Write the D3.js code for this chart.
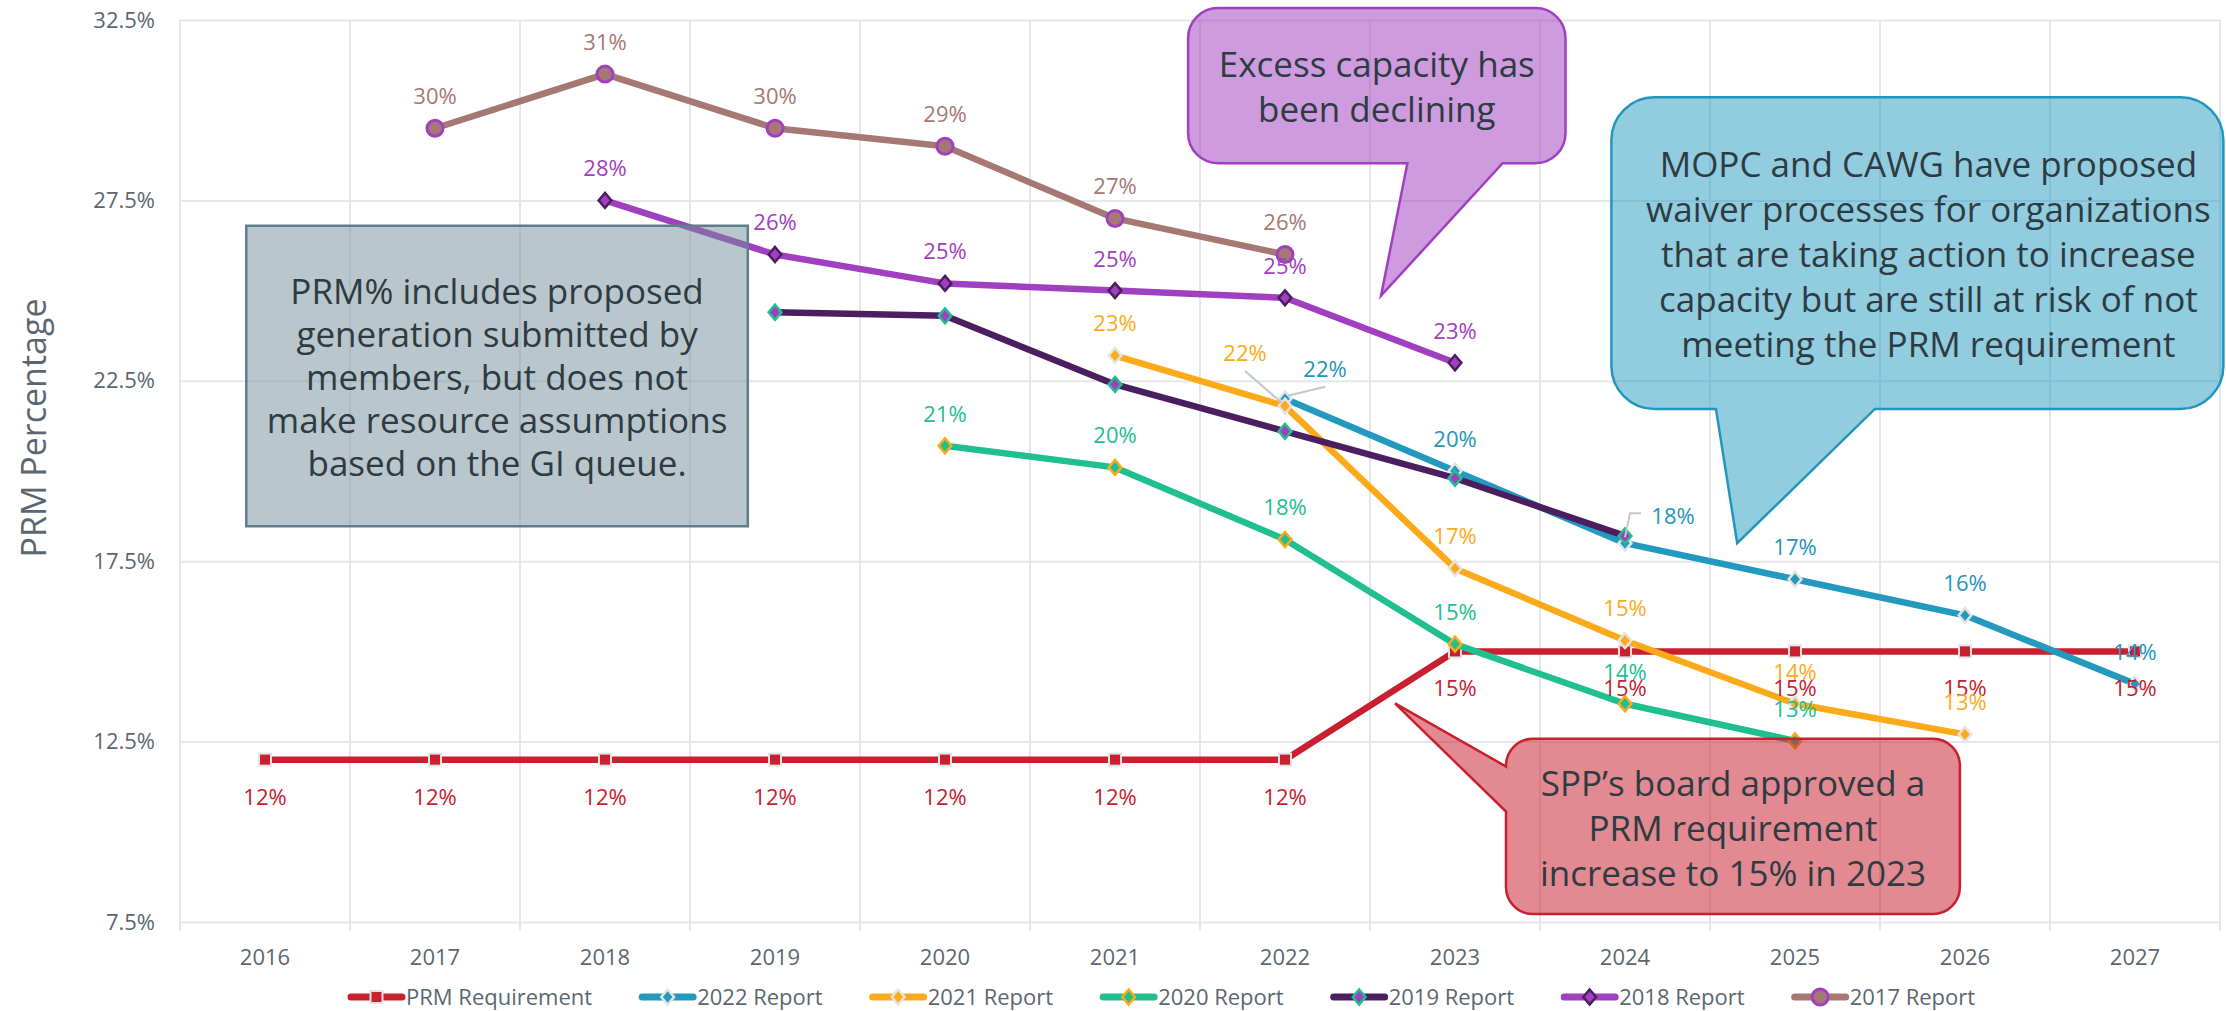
<!DOCTYPE html>
<html>
<head>
<meta charset="utf-8">
<script src="https://cdn.jsdelivr.net/npm/d3@7"></script>
<style>
  html, body { margin: 0; padding: 0; background: #ffffff; }
  svg { display: block; font-family: "Open Sans", "Noto Sans", sans-serif; }
</style>
</head>
<body>
<svg id="chart" width="2226" height="1011"></svg>
<script>
// ---------------- DATA ----------------
const years = [2016, 2017, 2018, 2019, 2020, 2021, 2022, 2023, 2024, 2025, 2026, 2027];
const yTicks = [7.5, 12.5, 17.5, 22.5, 27.5, 32.5];
const seriesNames = ["PRM Requirement", "2022 Report", "2021 Report", "2020 Report", "2019 Report", "2018 Report", "2017 Report"];

const prmRequirementYears = [2016, 2017, 2018, 2019, 2020, 2021, 2022, 2023, 2024, 2025, 2026, 2027];
const prmRequirement      = [12, 12, 12, 12, 12, 12, 12, 15, 15, 15, 15, 15];

const report2022Years = [2022, 2023, 2024, 2025, 2026, 2027];
const report2022      = [22.0, 20.0, 18.0, 17.0, 16.0, 14.1];

const report2021Years = [2021, 2022, 2023, 2024, 2025, 2026];
const report2021      = [23.2, 21.8, 17.3, 15.3, 13.55, 12.7];

const report2020Years = [2020, 2021, 2022, 2023, 2024, 2025];
const report2020      = [20.7, 20.1, 18.1, 15.2, 13.55, 12.52];

const report2019Years = [2019, 2020, 2021, 2022, 2023, 2024];
const report2019      = [24.4, 24.3, 22.4, 21.1, 19.8, 18.2];

const report2018Years = [2018, 2019, 2020, 2021, 2022, 2023];
const report2018      = [27.5, 26.0, 25.2, 25.0, 24.8, 23.0];

const report2017Years = [2017, 2018, 2019, 2020, 2021, 2022];
const report2017      = [29.5, 31.0, 29.5, 29.0, 27.0, 26.0];

const seriesYears  = [prmRequirementYears, report2022Years, report2021Years, report2020Years, report2019Years, report2018Years, report2017Years];
const seriesValues = [prmRequirement, report2022, report2021, report2020, report2019, report2018, report2017];

const annotationTexts = {
  gray: ["PRM% includes proposed", "generation submitted by", "members, but does not", "make resource assumptions", "based on the GI queue."],
  purple: ["Excess capacity has", "been declining"],
  blue: ["MOPC and CAWG have proposed", "waiver processes for organizations", "that are taking action to increase", "capacity but are still at risk of not", "meeting the PRM requirement"],
  red: ["SPP\u2019s board approved a", "PRM requirement", "increase to 15% in 2023"]
};

// ---------------- STYLES ----------------
const styles = [
  { color: "#C8202F", marker: "square",  fill: "#C8202F", stroke: "#E2E2E2", labels: true, labelDy: 37 },
  { color: "#2399C0", marker: "diamond", fill: "#2399C0", stroke: "#E4E4E4", labels: true, labelDy: -32 },
  { color: "#FCAA1A", marker: "diamond", fill: "#FCAA1A", stroke: "#E4E4E4", labels: true, labelDy: -32 },
  { color: "#20BF8F", marker: "diamond", fill: "#20BF8F", stroke: "#FCAA1A", labels: true, labelDy: -32 },
  { color: "#4B1F5F", marker: "diamond", fill: "#A040C0", stroke: "#20BF8F", labels: false, labelDy: -32 },
  { color: "#A040C0", marker: "diamond", fill: "#A040C0", stroke: "#4B1F5F", labels: true, labelDy: -32 },
  { color: "#A57874", marker: "circle",  fill: "#A57874", stroke: "#A040C0", labels: true, labelDy: -32 }
];
const labelColors = ["#C8202F", "#2394BD", "#FCAA1A", "#20BF8F", "#4B1F5F", "#A040C0", "#A57874"];
// special label placements (series index, year)
const labelOverrides = {
  "2-2022": { dx: -40, dy: -53, leader: "straight" },
  "1-2022": { dx: 40, dy: -30, leader: "straight" },
  "1-2024": { dx: 48, dy: -27, leader: "elbow" }
};

// ---------------- SCALES ----------------
const W = 2226, H = 1011;
const plot = { left: 180, right: 2220, top: 20, bottom: 922 };
const svg = d3.select("#chart");
svg.append("rect").attr("width", W).attr("height", H).attr("fill", "#ffffff");

const x = d3.scaleBand().domain(years).range([plot.left, plot.right]).padding(0);
const bw = x.bandwidth();
const xc = yr => x(yr) + bw / 2;
const xv = t => x(years[0]) + bw / 2 + (t - years[0]) * bw; // fractional year position
const y = d3.scaleLinear().domain([7.5, 32.5]).range([plot.bottom, plot.top]);

// ---------------- GRID ----------------
const gridColor = "#E4E7EA";
const hGrid = svg.append("g").attr("transform", `translate(${plot.left},0)`)
  .call(d3.axisLeft(y).tickValues(yTicks).tickSize(-(plot.right - plot.left)).tickFormat(""));
hGrid.select(".domain").remove();
hGrid.selectAll("line").attr("stroke", gridColor).attr("stroke-width", 2);

const vb = years.map(d => x(d)).concat([plot.right]);
svg.append("g").selectAll("line").data(vb).join("line")
  .attr("x1", d => d).attr("x2", d => d)
  .attr("y1", plot.top).attr("y2", plot.bottom + 9)
  .attr("stroke", gridColor).attr("stroke-width", 2);

// ---------------- AXES ----------------
const axisColor = "#5B6770";
const yAxis = svg.append("g").attr("transform", `translate(${plot.left},0)`)
  .call(d3.axisLeft(y).tickValues(yTicks).tickSize(0).tickPadding(25).tickFormat(d => d.toFixed(1) + "%"));
yAxis.select(".domain").remove();
yAxis.selectAll("text").attr("font-size", 22).attr("fill", axisColor).attr("font-family", "Open Sans");

const xAxis = svg.append("g").attr("transform", `translate(0,${plot.bottom})`)
  .call(d3.axisBottom(x).tickSize(0).tickPadding(27));
xAxis.select(".domain").remove();
xAxis.selectAll("text").attr("font-size", 22).attr("fill", axisColor).attr("font-family", "Open Sans");

svg.append("text")
  .attr("transform", `translate(34,428) rotate(-90)`)
  .attr("text-anchor", "middle").attr("dy", "0.35em")
  .attr("font-size", 34).attr("fill", axisColor)
  .text("PRM Percentage");

// ---------------- MARKERS ----------------
function drawMarker(g, st, cx, cy) {
  if (st.marker === "square") {
    g.append("rect").attr("x", cx - 6).attr("y", cy - 6).attr("width", 12).attr("height", 12)
      .attr("fill", st.fill).attr("stroke", st.stroke).attr("stroke-width", 2);
  } else if (st.marker === "diamond") {
    const s = 7.5;
    g.append("path").attr("d", `M${cx},${cy - s}L${cx + s * 0.85},${cy}L${cx},${cy + s}L${cx - s * 0.85},${cy}Z`)
      .attr("fill", st.fill).attr("stroke", st.stroke).attr("stroke-width", 2.5).attr("stroke-linejoin", "miter");
  } else {
    g.append("circle").attr("cx", cx).attr("cy", cy).attr("r", 8)
      .attr("fill", st.fill).attr("stroke", st.stroke).attr("stroke-width", 3);
  }
}

// ---------------- SERIES ----------------
const line = d3.line().x(d => xc(d.year)).y(d => y(d.value));
const seriesData = seriesNames.map((name, i) => seriesYears[i].map((yr, j) => ({ year: yr, value: seriesValues[i][j] })));

const linesG = svg.append("g");
seriesData.forEach((pts, i) => {
  const st = styles[i];
  const g = linesG.append("g");
  g.append("path").datum(pts).attr("d", line)
    .attr("fill", "none").attr("stroke", st.color).attr("stroke-width", 6.5)
    .attr("stroke-linejoin", "round").attr("stroke-linecap", "butt");
  pts.forEach(p => drawMarker(g, st, xc(p.year), y(p.value)));
});

// ---------------- LABELS ----------------
const labelsG = svg.append("g");
seriesData.forEach((pts, i) => {
  const st = styles[i];
  if (!st.labels) return;
  pts.forEach(p => {
    const px = xc(p.year), py = y(p.value);
    const ov = labelOverrides[`${i}-${p.year}`];
    const dx = ov ? ov.dx : 0, dy = ov ? ov.dy : st.labelDy;
    const lx = px + dx, ly = py + dy;
    if (ov && ov.leader === "straight") {
      labelsG.append("line").attr("x1", lx).attr("y1", ly + 18).attr("x2", px + (dx < 0 ? -3 : 3)).attr("y2", py - 3)
        .attr("stroke", "#C3C8CC").attr("stroke-width", 2);
    } else if (ov && ov.leader === "elbow") {
      labelsG.append("path").attr("d", `M${lx - 32},${ly - 3}H${lx - 43}L${px},${py - 6}`)
        .attr("fill", "none").attr("stroke", "#C3C8CC").attr("stroke-width", 2);
    }
    labelsG.append("text").attr("x", lx).attr("y", ly).attr("dy", "0.36em")
      .attr("text-anchor", "middle").attr("font-size", 22).attr("fill", labelColors[i])
      .text(Math.round(p.value) + "%");
  });
});

// ---------------- ANNOTATIONS ----------------
function calloutPath(x0, y0, x1, y1, r, tail) {
  let d = `M${x0 + r},${y0}H${x1 - r}A${r},${r} 0 0 1 ${x1},${y0 + r}V${y1 - r}A${r},${r} 0 0 1 ${x1 - r},${y1}`;
  if (tail && tail.side === "bottom") d += `H${tail.b}L${tail.tx},${tail.ty}L${tail.a},${y1}`;
  d += `H${x0 + r}A${r},${r} 0 0 1 ${x0},${y1 - r}`;
  if (tail && tail.side === "left") d += `V${tail.b}L${tail.tx},${tail.ty}L${x0},${tail.a}`;
  d += `V${y0 + r}A${r},${r} 0 0 1 ${x0 + r},${y0}Z`;
  return d;
}
const annG = svg.append("g");
function callout(spec) {
  const x0 = xv(spec.x0), x1 = xv(spec.x1), y0 = y(spec.y0), y1 = y(spec.y1);
  let tail = null;
  if (spec.tail) {
    const t = spec.tail;
    tail = t.side === "bottom"
      ? { side: "bottom", a: xv(t.a), b: xv(t.b), tx: xv(t.tx), ty: y(t.ty) }
      : { side: "left", a: y(t.a), b: y(t.b), tx: xv(t.tx), ty: y(t.ty) };
  }
  annG.append("path").attr("d", calloutPath(x0, y0, x1, y1, spec.r, tail))
    .attr("fill", spec.fill).attr("fill-opacity", spec.opacity)
    .attr("stroke", spec.stroke).attr("stroke-width", 2.5);
  const cx = (x0 + x1) / 2 + (spec.textDx || 0), cy = (y0 + y1) / 2;
  const n = spec.lines.length;
  spec.lines.forEach((t, i) => {
    annG.append("text").attr("x", cx).attr("y", cy + (i - (n - 1) / 2) * spec.lh + 0.35 * spec.fs + 2)
      .attr("text-anchor", "middle").attr("font-size", spec.fs).attr("fill", "#2E3B42").text(t);
  });
}
callout({ x0: 2015.89, x1: 2018.84, y0: 26.8, y1: 18.47, r: 0, fill: "#738D99", opacity: 0.5, stroke: "#5F7D8A",
  lines: annotationTexts.gray, fs: 35, lh: 43 });
callout({ x0: 2021.43, x1: 2023.65, y0: 32.83, y1: 28.53, r: 30, fill: "#A040C0", opacity: 0.52, stroke: "#A040C0",
  tail: { side: "bottom", a: 2022.72, b: 2023.28, tx: 2022.565, ty: 24.86 },
  lines: annotationTexts.purple, fs: 35, lh: 45 });
callout({ x0: 2023.92, x1: 2027.52, y0: 30.36, y1: 21.72, r: 43, fill: "#2399C0", opacity: 0.5, stroke: "#2396BE",
  tail: { side: "bottom", a: 2024.535, b: 2025.47, tx: 2024.66, ty: 18.0 },
  lines: annotationTexts.blue, fs: 35, lh: 45, textDx: 11 });
callout({ x0: 2023.3, x1: 2025.97, y0: 12.58, y1: 7.72, r: 27, fill: "#C8202F", opacity: 0.53, stroke: "#C8202F",
  tail: { side: "left", a: 11.81, b: 10.56, tx: 2022.647, ty: 13.56 },
  lines: annotationTexts.red, fs: 35, lh: 45 });

// ---------------- LEGEND ----------------
const legendG = svg.append("g").attr("transform", "translate(0,997)");
let lx = 348;
seriesNames.forEach((name, i) => {
  const st = styles[i];
  const g = legendG.append("g").attr("transform", `translate(${lx},0)`);
  g.append("line").attr("x1", 3).attr("x2", 54).attr("y1", 0).attr("y2", 0)
    .attr("stroke", st.color).attr("stroke-width", 7).attr("stroke-linecap", "round");
  drawMarker(g, st, 28.5, 0);
  const t = g.append("text").attr("x", 58).attr("y", 0).attr("dy", "0.35em")
    .attr("font-size", 22).attr("fill", axisColor).text(name);
  lx += 58 + t.node().getComputedTextLength() + 47;
});
</script>
</body>
</html>
